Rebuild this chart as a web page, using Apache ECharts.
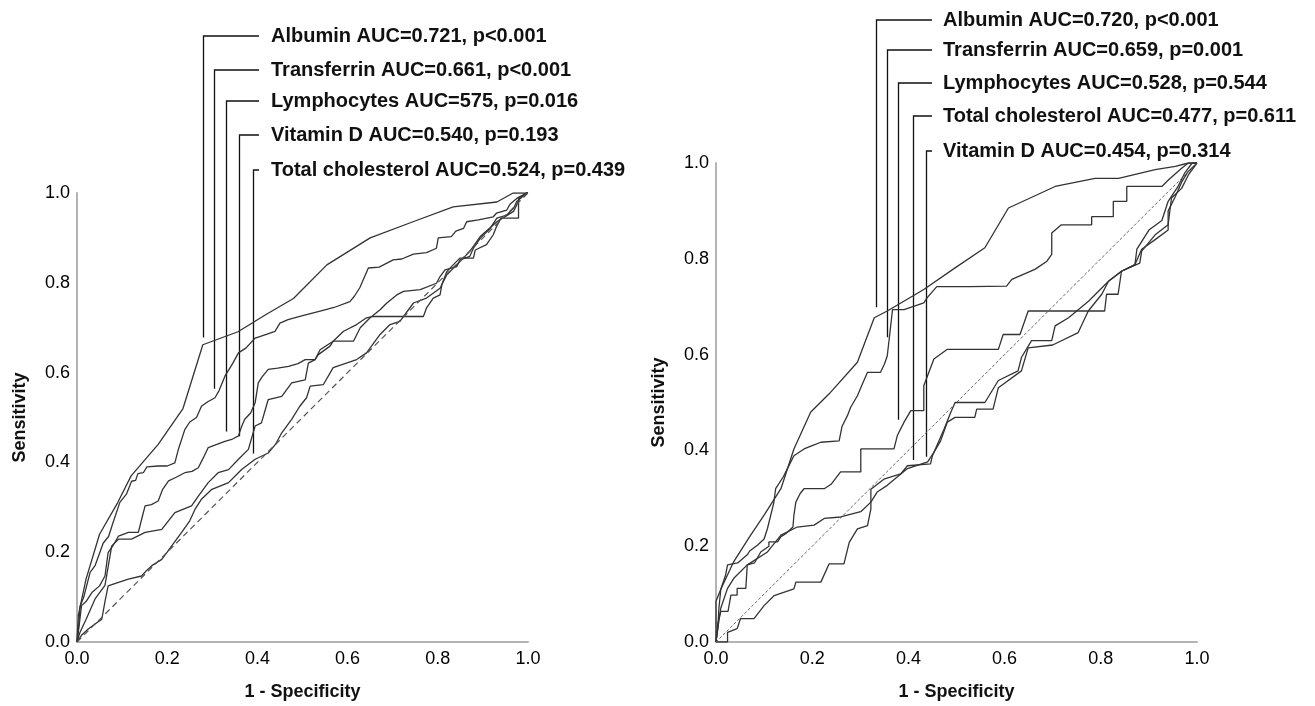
<!DOCTYPE html>
<html>
<head>
<meta charset="utf-8">
<script src="https://cdn.jsdelivr.net/npm/echarts@6/dist/echarts.min.js"></script>
<style>
  html, body { margin: 0; padding: 0; background: #fff; }
  #chart { width: 1315px; height: 706px; }
</style>
</head>
<body>
<div id="chart"></div>
<script>
// ---- data: left panel (ROC points as [1 - specificity, sensitivity]) ----
const albuminL = [[0,0],[0.003,0.06],[0.02,0.14],[0.05,0.24],[0.09,0.31],[0.12,0.37],[0.18,0.44],[0.235,0.52],[0.279,0.662],[0.357,0.691],[0.42,0.73],[0.48,0.765],[0.554,0.84],[0.65,0.9],[0.745,0.936],[0.834,0.969],[0.931,0.98],[0.967,1.0],[1,1]];
const transferrinL = [[0,0],[0.004,0.04],[0.007,0.08],[0.015,0.1],[0.029,0.155],[0.04,0.17],[0.058,0.22],[0.07,0.235],[0.08,0.266],[0.095,0.311],[0.11,0.33],[0.121,0.358],[0.13,0.36],[0.135,0.375],[0.147,0.377],[0.155,0.39],[0.18,0.392],[0.2,0.392],[0.217,0.399],[0.225,0.43],[0.239,0.473],[0.25,0.49],[0.265,0.5],[0.276,0.525],[0.29,0.535],[0.306,0.544],[0.315,0.56],[0.328,0.592],[0.345,0.62],[0.358,0.644],[0.375,0.655],[0.395,0.677],[0.42,0.685],[0.439,0.692],[0.45,0.71],[0.468,0.718],[0.494,0.725],[0.539,0.737],[0.57,0.745],[0.605,0.758],[0.615,0.77],[0.627,0.789],[0.646,0.833],[0.67,0.835],[0.701,0.851],[0.72,0.853],[0.746,0.864],[0.775,0.867],[0.797,0.877],[0.801,0.9],[0.83,0.903],[0.84,0.915],[0.857,0.921],[0.864,0.936],[0.89,0.94],[0.923,0.947],[0.93,0.955],[0.953,0.962],[0.96,0.975],[0.975,0.988],[0.997,1.0],[1,1]];
const lymphL = [[0,0],[0.004,0.03],[0.01,0.081],[0.02,0.09],[0.033,0.11],[0.05,0.125],[0.062,0.147],[0.069,0.199],[0.08,0.215],[0.092,0.236],[0.114,0.244],[0.136,0.244],[0.145,0.28],[0.151,0.303],[0.165,0.306],[0.18,0.314],[0.19,0.34],[0.203,0.359],[0.22,0.367],[0.239,0.377],[0.255,0.38],[0.269,0.388],[0.28,0.41],[0.291,0.433],[0.31,0.44],[0.328,0.447],[0.345,0.452],[0.358,0.459],[0.365,0.48],[0.372,0.496],[0.385,0.51],[0.395,0.533],[0.402,0.577],[0.41,0.59],[0.424,0.607],[0.445,0.61],[0.469,0.614],[0.49,0.62],[0.506,0.629],[0.528,0.629],[0.535,0.64],[0.561,0.659],[0.568,0.67],[0.613,0.67],[0.628,0.7],[0.65,0.722],[0.672,0.74],[0.687,0.755],[0.709,0.773],[0.724,0.781],[0.761,0.785],[0.797,0.799],[0.805,0.814],[0.816,0.829],[0.842,0.836],[0.849,0.851],[0.871,0.859],[0.879,0.877],[0.894,0.899],[0.916,0.921],[0.931,0.944],[0.953,0.951],[0.968,0.966],[0.975,0.981],[0.997,1.0],[1,1]];
const vitDL = [[0,0],[0.006,0.02],[0.02,0.05],[0.04,0.096],[0.062,0.126],[0.077,0.214],[0.092,0.229],[0.121,0.229],[0.151,0.244],[0.188,0.251],[0.217,0.288],[0.254,0.303],[0.269,0.325],[0.291,0.355],[0.313,0.377],[0.336,0.384],[0.358,0.407],[0.38,0.429],[0.395,0.481],[0.409,0.488],[0.424,0.54],[0.454,0.547],[0.476,0.577],[0.506,0.584],[0.513,0.621],[0.528,0.629],[0.539,0.651],[0.568,0.67],[0.591,0.692],[0.62,0.707],[0.642,0.722],[0.657,0.725],[0.768,0.725],[0.775,0.744],[0.79,0.766],[0.805,0.773],[0.809,0.796],[0.82,0.825],[0.834,0.84],[0.849,0.855],[0.879,0.855],[0.883,0.873],[0.908,0.885],[0.923,0.907],[0.93,0.925],[0.94,0.944],[0.979,0.944],[0.979,0.99],[1,1]];
const cholL = [[0,0],[0.01,0.015],[0.025,0.029],[0.04,0.04],[0.055,0.051],[0.062,0.09],[0.069,0.125],[0.092,0.133],[0.114,0.14],[0.143,0.147],[0.155,0.16],[0.166,0.17],[0.188,0.184],[0.2,0.2],[0.21,0.214],[0.232,0.244],[0.25,0.27],[0.262,0.296],[0.276,0.318],[0.299,0.34],[0.336,0.355],[0.365,0.384],[0.395,0.407],[0.424,0.421],[0.44,0.44],[0.454,0.466],[0.476,0.496],[0.494,0.525],[0.509,0.544],[0.517,0.57],[0.546,0.573],[0.568,0.611],[0.62,0.629],[0.642,0.644],[0.672,0.685],[0.694,0.707],[0.716,0.714],[0.746,0.755],[0.775,0.766],[0.805,0.788],[0.82,0.818],[0.842,0.84],[0.871,0.87],[0.894,0.903],[0.931,0.936],[0.968,0.959],[0.982,0.988],[0.997,1.0],[1,1]];

// ---- data: right panel ----
const albuminR = [[0,0],[0,0.085],[0.01,0.11],[0.037,0.168],[0.07,0.22],[0.1,0.265],[0.135,0.32],[0.162,0.403],[0.197,0.48],[0.238,0.521],[0.294,0.584],[0.329,0.677],[0.356,0.691],[0.432,0.736],[0.497,0.781],[0.559,0.823],[0.608,0.906],[0.705,0.951],[0.788,0.968],[0.837,0.968],[0.913,0.986],[0.955,0.993],[0.982,1.0],[1,1]];
const transferrinR = [[0,0],[0.004,0.03],[0.006,0.07],[0.01,0.11],[0.02,0.14],[0.024,0.161],[0.045,0.165],[0.065,0.182],[0.07,0.19],[0.086,0.202],[0.1,0.215],[0.107,0.237],[0.12,0.29],[0.124,0.32],[0.14,0.345],[0.155,0.375],[0.162,0.389],[0.183,0.403],[0.2,0.41],[0.218,0.417],[0.256,0.42],[0.262,0.45],[0.273,0.472],[0.28,0.49],[0.294,0.514],[0.305,0.54],[0.315,0.563],[0.342,0.563],[0.35,0.58],[0.356,0.597],[0.36,0.632],[0.367,0.694],[0.391,0.694],[0.432,0.708],[0.44,0.72],[0.459,0.742],[0.528,0.742],[0.604,0.743],[0.615,0.757],[0.663,0.778],[0.688,0.795],[0.698,0.809],[0.698,0.854],[0.718,0.871],[0.781,0.871],[0.781,0.888],[0.826,0.888],[0.826,0.92],[0.854,0.92],[0.854,0.951],[0.927,0.951],[0.941,0.965],[0.968,0.989],[0.982,1.0],[1,1]];
const lymphR = [[0,0],[0.004,0.04],[0.01,0.064],[0.025,0.064],[0.031,0.098],[0.044,0.098],[0.044,0.112],[0.062,0.112],[0.065,0.161],[0.08,0.165],[0.093,0.188],[0.11,0.2],[0.11,0.209],[0.128,0.209],[0.135,0.22],[0.145,0.226],[0.16,0.24],[0.162,0.265],[0.166,0.292],[0.175,0.31],[0.183,0.32],[0.225,0.32],[0.24,0.33],[0.259,0.355],[0.301,0.355],[0.301,0.403],[0.37,0.403],[0.377,0.431],[0.391,0.459],[0.405,0.483],[0.432,0.483],[0.432,0.535],[0.453,0.591],[0.481,0.611],[0.587,0.611],[0.597,0.642],[0.632,0.642],[0.649,0.691],[0.808,0.691],[0.812,0.726],[0.836,0.726],[0.843,0.774],[0.881,0.791],[0.885,0.816],[0.913,0.85],[0.94,0.871],[0.947,0.927],[0.968,0.947],[0.982,0.975],[1,1]];
const cholR = [[0,0],[0.004,0.03],[0.01,0.071],[0.024,0.112],[0.037,0.133],[0.065,0.161],[0.107,0.188],[0.135,0.223],[0.169,0.24],[0.204,0.244],[0.225,0.258],[0.259,0.261],[0.301,0.272],[0.322,0.292],[0.335,0.313],[0.356,0.327],[0.398,0.362],[0.44,0.376],[0.453,0.396],[0.467,0.42],[0.481,0.459],[0.497,0.469],[0.538,0.469],[0.542,0.486],[0.576,0.486],[0.587,0.531],[0.635,0.566],[0.649,0.614],[0.7,0.62],[0.753,0.646],[0.774,0.691],[0.802,0.726],[0.816,0.753],[0.843,0.774],[0.871,0.788],[0.885,0.82],[0.913,0.84],[0.94,0.86],[0.94,0.9],[0.955,0.93],[0.968,0.96],[0.98,0.98],[1,1]];
const vitDR = [[0,0],[0.024,0],[0.024,0.02],[0.044,0.028],[0.051,0.049],[0.079,0.049],[0.1,0.076],[0.121,0.097],[0.162,0.111],[0.166,0.125],[0.218,0.125],[0.235,0.163],[0.266,0.163],[0.277,0.208],[0.294,0.236],[0.315,0.243],[0.322,0.278],[0.322,0.319],[0.349,0.34],[0.384,0.351],[0.398,0.368],[0.446,0.372],[0.45,0.389],[0.474,0.444],[0.488,0.479],[0.497,0.5],[0.559,0.5],[0.587,0.546],[0.628,0.566],[0.635,0.594],[0.656,0.629],[0.698,0.629],[0.705,0.66],[0.733,0.677],[0.775,0.712],[0.816,0.753],[0.843,0.774],[0.871,0.788],[0.875,0.82],[0.9,0.86],[0.927,0.88],[0.94,0.92],[0.96,0.95],[0.975,0.98],[0.99,1],[1,1]];

const diagonal = [[0,0],[1,1]];

// labels and the curve point each leader line points to
const labelsL = ['Albumin AUC=0.721, p<0.001', 'Transferrin AUC=0.661, p<0.001', 'Lymphocytes AUC=575, p=0.016', 'Vitamin D AUC=0.540, p=0.193', 'Total cholesterol AUC=0.524, p=0.439'];
const anchorsL = [[0.279,0.678],[0.304,0.564],[0.330,0.469],[0.359,0.458],[0.390,0.42]];
const labelsR = ['Albumin AUC=0.720, p<0.001', 'Transferrin AUC=0.659, p=0.001', 'Lymphocytes AUC=0.528, p=0.544', 'Total cholesterol AUC=0.477, p=0.611', 'Vitamin D AUC=0.454, p=0.314'];
const anchorsR = [[0.333,0.699],[0.356,0.636],[0.378,0.464],[0.41,0.38],[0.437,0.387]];

const FONT = '"Liberation Sans", Arial, Helvetica, sans-serif';
const CURVE = '#333';

const chart = echarts.init(document.getElementById('chart'));

function axisPair(idx) {
    const common = {
        gridIndex: idx, type: 'value', min: 0, max: 1, interval: 0.2,
        axisLine: { show: true, lineStyle: { color: '#b4b4b4', width: 2 } },
        axisTick: { show: false },
        splitLine: { show: false },
        axisLabel: { color: '#000', fontSize: 18, fontFamily: FONT, formatter: v => v.toFixed(1) },
        nameLocation: 'middle',
        nameTextStyle: { color: '#111', fontSize: 18, fontWeight: 'bold', fontFamily: FONT }
    };
    return {
        x: Object.assign({}, common, { name: '1 - Specificity', nameGap: 41, axisLabel: Object.assign({}, common.axisLabel, { margin: 8 }) }),
        y: Object.assign({}, common, { name: 'Sensitivity', nameGap: 48, axisLabel: Object.assign({}, common.axisLabel, { margin: 7 }) })
    };
}
const a0 = axisPair(0), a1 = axisPair(1);

function curve(data, idx) {
    return {
        type: 'line', xAxisIndex: idx, yAxisIndex: idx, data: data,
        showSymbol: false, symbol: 'none', silent: true,
        lineStyle: { color: CURVE, width: 1.3 }
    };
}

chart.setOption({
    animation: false,
    backgroundColor: '#fff',
    grid: [
        { left: 77, top: 193, width: 451, height: 450 },
        { left: 716, top: 163, width: 481, height: 481 }
    ],
    xAxis: [a0.x, a1.x],
    yAxis: [a0.y, a1.y],
    series: [
        curve(albuminL, 0), curve(transferrinL, 0), curve(lymphL, 0), curve(vitDL, 0), curve(cholL, 0),
        { type: 'line', xAxisIndex: 0, yAxisIndex: 0, data: diagonal, showSymbol: false, silent: true,
          lineStyle: { color: '#555', width: 1.2, type: [6, 4] } },
        curve(albuminR, 1), curve(transferrinR, 1), curve(lymphR, 1), curve(cholR, 1), curve(vitDR, 1),
        { type: 'line', xAxisIndex: 1, yAxisIndex: 1, data: diagonal, showSymbol: false, silent: true,
          lineStyle: { color: '#555', width: 0.9, type: [3, 2] } }
    ]
});

// leader lines from each curve up to its label row
function leaders(idx, anchors, labels, rows, lineEnd, textX) {
    const out = [];
    anchors.forEach((a, i) => {
        const p = chart.convertToPixel({ xAxisIndex: idx, yAxisIndex: idx }, a);
        const x = Math.round(p[0]) + 0.5;
        out.push({
            type: 'polyline', silent: true,
            shape: { points: [[x, p[1]], [x, rows[i]], [lineEnd, rows[i]]] },
            style: { stroke: '#111', lineWidth: 1.3, fill: null }
        });
        out.push({
            type: 'text', silent: true, x: textX, y: rows[i],
            style: { text: labels[i], fill: '#111', font: 'bold 20px ' + FONT, verticalAlign: 'middle', textVerticalAlign: 'middle' }
        });
    });
    return out;
}

chart.setOption({
    graphic: [].concat(
        leaders(0, anchorsL, labelsL, [36, 70, 101, 135, 170], 259, 271),
        leaders(1, anchorsR, labelsR, [20, 50, 83, 116, 151], 932, 943)
    )
});

window.addEventListener('resize', () => chart.resize());
</script>
</body>
</html>
